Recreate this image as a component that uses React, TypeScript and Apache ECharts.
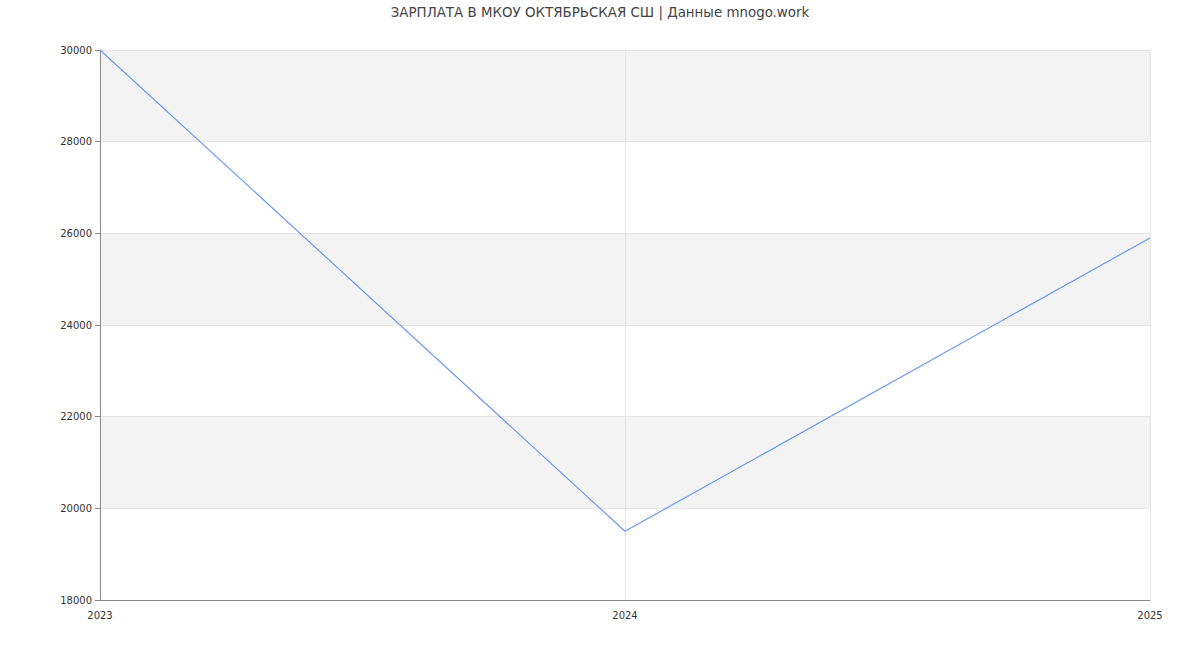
import React, { useEffect, useRef } from "react";
import * as echarts from "echarts";

const years = ["2023", "2024", "2025"];
const salary = [30000, 19500, 25900];
const titleText = "ЗАРПЛАТА В МКОУ ОКТЯБРЬСКАЯ СШ | Данные mnogo.work";

export default function App() {
  const ref = useRef<HTMLDivElement>(null);
  useEffect(() => {
    if (!ref.current) return;
    const chart = echarts.init(ref.current, undefined, { renderer: "svg" });
    chart.setOption({
      animation: false,
      textStyle: { fontFamily: "DejaVu Sans" },
      title: {
        text: titleText,
        left: "center",
        top: 1,
        textStyle: { fontSize: 13.4, fontWeight: "normal", color: "#444", fontFamily: "DejaVu Sans" },
      },
      grid: { left: 100, right: 50, top: 50, bottom: 50, containLabel: false },
      xAxis: {
        type: "category",
        data: years,
        boundaryGap: false,
        axisLine: { lineStyle: { color: "#888" } },
        axisTick: { show: false },
        axisLabel: { color: "#333", fontSize: 10, margin: 10 },
        splitLine: { show: true, lineStyle: { color: "#e6e6e6" } },
      },
      yAxis: {
        type: "value",
        min: 18000,
        max: 30000,
        interval: 2000,
        axisLine: { show: true, lineStyle: { color: "#888" } },
        axisTick: { show: true, length: 5, lineStyle: { color: "#888" } },
        axisLabel: { color: "#333", fontSize: 10, margin: 8, formatter: (v: number) => String(v) },
        splitLine: { show: true, lineStyle: { color: "#e6e6e6" } },
        splitArea: { show: true, areaStyle: { color: ["#ffffff", "#f3f3f3"] } },
      },
      series: [
        {
          type: "line",
          data: salary,
          showSymbol: false,
          symbol: "none",
          lineStyle: { color: "#6a9bf2", width: 1.2 },
        },
      ],
    });
    return () => chart.dispose();
  }, []);
  return (
    <div
      ref={ref}
      style={{ position: "absolute", left: 0, top: 0, width: 1200, height: 650 }}
    />
  );
}
